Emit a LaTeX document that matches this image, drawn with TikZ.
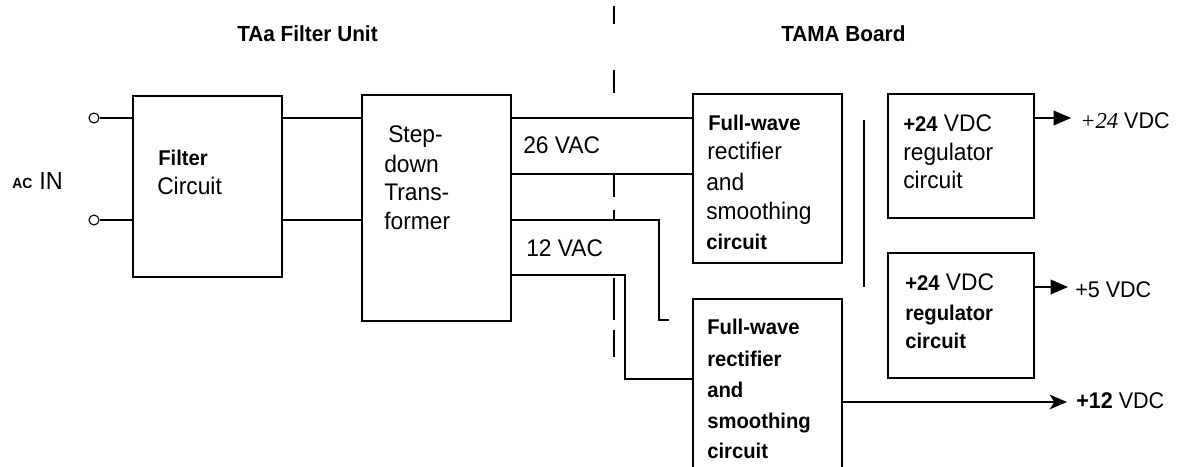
\documentclass[tikz,border=0pt]{standalone}
\usepackage{fontspec}
\setmainfont{Liberation Sans}[FakeStretch=0.95]
\newfontfamily\serifit{Liberation Serif}
\usetikzlibrary{arrows.meta,fit}
\begin{document}
\begin{tikzpicture}[x=0.75pt,y=-0.75pt,
  box/.style={draw, line width=1.1pt, inner sep=0pt, outer sep=0pt},
  wire/.style={line width=1pt},
  term/.style={draw, circle, line width=0.8pt, minimum size=7.5pt, inner sep=0pt},
  txt/.style={anchor=base west, inner sep=0pt, font=\fontsize{18}{20}\selectfont},
  btxt/.style={anchor=base west, inner sep=0pt, font=\fontsize{16}{18}\selectfont\bfseries},
  otxt/.style={anchor=base west, inner sep=0pt, font=\fontsize{17}{20}\selectfont},
  divider/.style={line width=0.9pt},
  tri/.style={wire, -{Triangle[length=13pt,width=11pt]}},
  stl/.style={wire, -{Stealth[length=13pt,width=11pt,inset=3.5pt]}}
]
\useasboundingbox (0,0) rectangle (1180,467);
\clip (0,0) rectangle (1180,467);

% titles
\node[btxt, font=\fontsize{16.4}{18}\selectfont\bfseries] (t1) at (237,41) {TAa Filter Unit};
\node[btxt, font=\fontsize{16.4}{18}\selectfont\bfseries] (t2) at (781,42) {TAMA Board};

% dashed divider
\foreach \a/\b in {6/24,70/93,175/197,210/220,278/320,330/357}
  \draw[divider] (614,\a) -- (614,\b);

% boxes
\node[box, fit={(133,96) (282,277)}] (flt) {};
\node[box, fit={(362,95) (511,321)}] (trf) {};
\node[box, fit={(693,94) (842,263)}] (rc1) {};
\node[box, fit={(693,299) (842,490)}] (rc2) {};
\node[box, fit={(888,94) (1034,218)}] (rg1) {};
\node[box, fit={(888,253) (1034,378)}] (rg2) {};

% divider between rectifier and regulators
\draw[divider] (864,120) -- (864,287);

% AC input terminals
\node[term] (in1) at (94,118) {};
\node[term] (in2) at (94,220) {};
\coordinate (y118) at (0,118);
\coordinate (y220) at (0,220);
\coordinate (y174) at (0,174);
\coordinate (y275) at (0,275);
\coordinate (y379) at (0,379);
\coordinate (y287) at (0,287);
\coordinate (y402) at (0,402);

\draw[wire] (in1) -- (flt.west |- in1);
\draw[wire] (in2) -- (flt.west |- in2);
\draw[wire] (flt.east |- y118) -- (trf.west |- y118);
\draw[wire] (flt.east |- y220) -- (trf.west |- y220);
\draw[wire] (trf.east |- y118) -- (rc1.west |- y118);
\draw[wire] (trf.east |- y174) -- (rc1.west |- y174);
\coordinate (stub) at (669,320);
\draw[wire] (trf.east |- y220) -- (659,220) -- (659,320) -- (stub);
\draw[wire] (trf.east |- y275) -- (625,275) -- (625,379) -- (rc2.west |- y379);

% outputs
\coordinate (o24) at (1071,118);
\coordinate (o5) at (1068,287);
\coordinate (o12) at (1067,402);
\draw[tri] (rg1.east |- y118) -- (o24);
\draw[tri] (rg2.east |- y287) -- (o5);
\draw[stl] (rc2.east |- y402) -- (o12);
\node[otxt] (l24) at (1080,128) {{\serifit\itshape +24} VDC};
\node[otxt] (l5) at (1075,297) {+5 VDC};
\node[otxt] (l12) at (1076,408) {\textbf{+12} VDC};

% AC IN
\node[btxt, font=\fontsize{11}{12}\selectfont\bfseries] (ac) at (12,188) {AC};
\node[txt, font=\fontsize{18.5}{20}\selectfont] (acin) at (39,189) {IN};

% filter text
\node[btxt] (f1) at (158,165) {Filter};
\node[txt] (f2) at (157,194) {Circuit};

% transformer text
\node[txt] (s1) at (388,142) {Step-};
\node[txt] (s2) at (384,172) {down};
\node[txt] (s3) at (384,200) {Trans-};
\node[txt] (s4) at (384,229) {former};

\node[txt] (v26) at (523,153) {26 VAC};
\node[txt] (v12) at (526,256) {12 VAC};

% rectifier 1
\node[btxt] (a1) at (708,130) {Full-wave};
\node[txt] (a2) at (707,159) {rectifier};
\node[txt] (a3) at (706,190) {and};
\node[txt] (a4) at (706,219) {smoothing};
\node[btxt] (a5) at (706,249) {circuit};

% rectifier 2
\node[btxt] (b1) at (707,334) {Full-wave};
\node[btxt] (b2) at (707,366) {rectifier};
\node[btxt] (b3) at (707,397) {and};
\node[btxt] (b4) at (707,428) {smoothing};
\node[btxt] (b5) at (707,458) {circuit};

% regulator 1
\node[txt] (c1) at (903,131) {\textbf{\fontsize{16}{18}\selectfont +24} VDC};
\node[txt] (c2) at (903,160) {regulator};
\node[txt] (c3) at (903,188) {circuit};

% regulator 2
\node[txt] (d1) at (905,290) {\textbf{\fontsize{16}{18}\selectfont +24} VDC};
\node[btxt] (d2) at (905,320) {regulator};
\node[btxt] (d3) at (905,348) {circuit};
\end{tikzpicture}
\end{document}
